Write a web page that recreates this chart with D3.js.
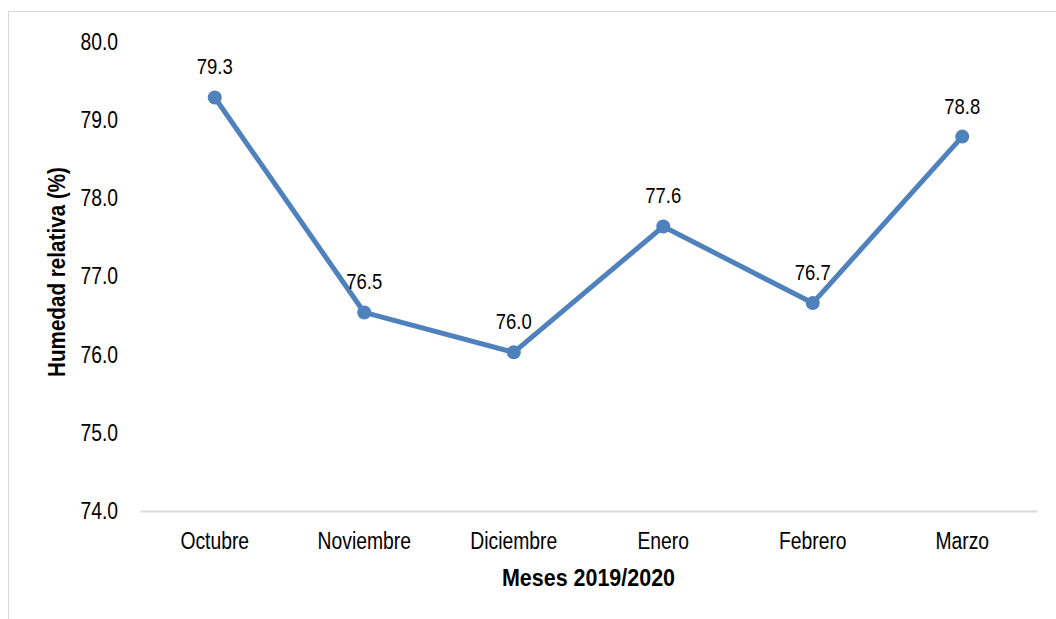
<!DOCTYPE html>
<html>
<head>
<meta charset="utf-8">
<script src="https://cdn.jsdelivr.net/npm/d3@7"></script>
<style>
  html, body { margin: 0; padding: 0; background: #fff; }
  svg { display: block; }
  text { font-family: "Liberation Sans Narrow", "Arial Narrow", "Liberation Sans", Arial, sans-serif; fill: #000; }
</style>
</head>
<body>
<script>
// Monthly mean relative humidity, October 2019 – March 2020
const months = ["Octubre", "Noviembre", "Diciembre", "Enero", "Febrero", "Marzo"];
const humidity = [79.29, 76.54, 76.03, 77.64, 76.66, 78.79];
const yTicks = [74, 75, 76, 77, 78, 79, 80];
const xTitle = "Meses 2019/2020";
const yTitle = "Humedad relativa (%)";

const W = 1056, H = 619;
const plot = { left: 140, right: 1037, top: 42, bottom: 511 };
const NARROW = 0.84; // horizontal squeeze to give a narrow sans face

const svg = d3.select("body").append("svg")
  .attr("width", W).attr("height", H);

// Squeeze a text selection horizontally (or to a fixed length)
function narrow(sel, fixed) {
  sel.each(function () {
    const len = this.getComputedTextLength();
    d3.select(this)
      .attr("textLength", fixed || len * NARROW)
      .attr("lengthAdjust", "spacingAndGlyphs");
  });
}

// Chart frame (runs off the right and bottom edges)
svg.append("rect")
  .attr("x", 8.5).attr("y", 11.5)
  .attr("width", W + 20).attr("height", H + 20)
  .attr("fill", "none").attr("stroke", "#d9d9d9").attr("stroke-width", 1);

const x = d3.scaleBand().domain(months).range([plot.left, plot.right]);
const y = d3.scaleLinear().domain([74, 80]).range([plot.bottom, plot.top]);

// Category axis
const xAxis = svg.append("g")
  .attr("transform", `translate(0,${plot.bottom})`)
  .call(d3.axisBottom(x).tickSize(0).tickPadding(22));
xAxis.select(".domain").attr("stroke", "#d9d9d9").attr("stroke-width", 2);
xAxis.selectAll("text").attr("font-size", 23).attr("fill", "#000").call(narrow);

// Value axis (labels only)
const yAxis = svg.append("g")
  .attr("transform", `translate(${plot.left - 22},0)`)
  .call(d3.axisLeft(y).tickValues(yTicks).tickFormat(d3.format(".1f")).tickSize(0).tickPadding(0));
yAxis.select(".domain").remove();
yAxis.selectAll("text").attr("font-size", 23).attr("fill", "#000").call(narrow);

// Axis titles
svg.append("text")
  .attr("x", (plot.left + plot.right) / 2)
  .attr("y", 586)
  .attr("text-anchor", "middle")
  .attr("font-size", 24).attr("font-weight", "bold")
  .text(xTitle)
  .call(narrow, 173);

svg.append("text")
  .attr("transform", "translate(65,272) rotate(-90)")
  .attr("text-anchor", "middle")
  .attr("font-size", 24).attr("font-weight", "bold")
  .text(yTitle)
  .call(narrow, 210);

const pts = months.map((m, i) => ({ m, v: humidity[i] }));
const cx = d => x(d.m) + x.bandwidth() / 2;

// Series line
svg.append("path")
  .datum(pts)
  .attr("fill", "none")
  .attr("stroke", "#4f81bd")
  .attr("stroke-width", 5)
  .attr("stroke-linejoin", "round")
  .attr("d", d3.line().x(cx).y(d => y(d.v)));

// Markers
svg.selectAll("circle.pt").data(pts).join("circle")
  .attr("class", "pt")
  .attr("cx", cx).attr("cy", d => y(d.v))
  .attr("r", 7).attr("fill", "#4f81bd");

// Value labels
svg.selectAll("text.lbl").data(pts).join("text")
  .attr("class", "lbl")
  .attr("x", cx).attr("y", d => y(d.v) - 23)
  .attr("text-anchor", "middle")
  .attr("font-size", 22)
  .text(d => d3.format(".1f")(d.v))
  .call(narrow);
</script>
</body>
</html>
